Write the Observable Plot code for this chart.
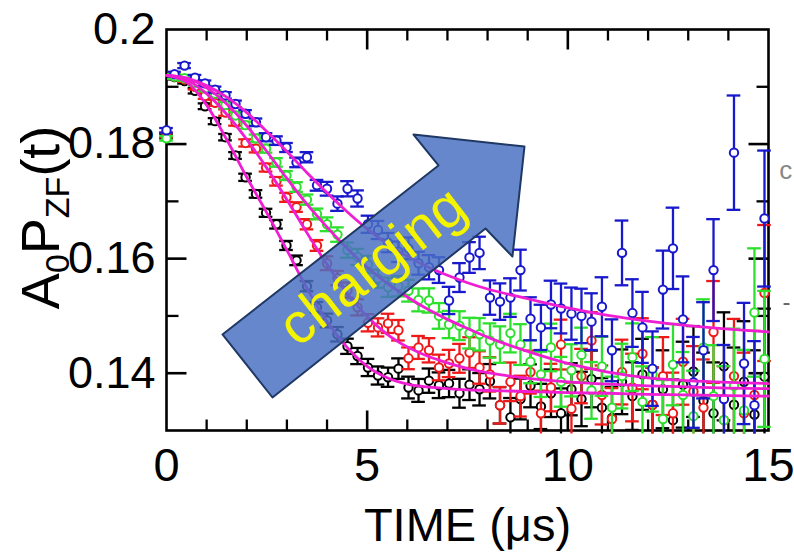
<!DOCTYPE html>
<html><head><meta charset="utf-8">
<script src="https://cdn.jsdelivr.net/npm/d3@7"></script>
<script src="https://cdn.jsdelivr.net/npm/@observablehq/plot@0.6"></script>
<style>body{margin:0;background:#fff} svg{display:block}</style>
</head><body>
<script>
// ---- data ----
const times = [0,0.20,0.45,0.71,0.96,1.21,1.47,1.72,1.97,2.23,2.48,2.74,2.99,3.24,3.50,3.75,4.00,4.26,4.51,4.76,5.02,5.27,5.52,5.78,6.03,6.28,6.54,6.79,7.04,7.30,7.55,7.80,8.06,8.31,8.57,8.82,9.07,9.33,9.58,9.83,10.09,10.34,10.59,10.85,11.10,11.35,11.61,11.86,12.11,12.37,12.62,12.87,13.13,13.38,13.63,13.89,14.14,14.39,14.65,14.90];
const errs = [.00040,.00042,.00044,.00047,.00050,.00053,.00056,.00059,.00063,.00066,.00070,.00075,.00079,.00084,.00089,.00094,.00120,.00126,.00133,.00141,.00150,.00158,.00168,.00179,.00190,.00200,.00212,.00224,.00238,.00252,.00268,.00283,.00300,.00318,.00337,.00356,.00375,.00395,.00415,.00435,.00455,.00475,.00495,.00515,.00540,.00565,.00590,.00620,.00650,.00680,.00710,.00750,.00793,.00840,.00889,.00943,.00998,.01058,.01120,.01187];
const blackVals = [.1814,.1917,.1910,.1893,.1866,.1840,.1812,.1780,.1742,.1713,
  .1680,.1660,.1623,.1597,.1552,.1515,.1492,.1468,.1447,.1430,
  .1410,.1396,.1393,.1408,.1375,.1370,.1387,.1379,.1382,.1365,
  .1380,.1372,.1386,.1344,.1323,.1355,.1378,.1342,.1365,.1330,
  .1372,.1355,.1390,.1340,.1322,.1385,.1360,.1398,.1345,.1372,
  .1318,.1380,.1403,.1352,.1330,.1412,.1345,.1385,.1328,.1394];
const redVals = [.1816,.1918,.1913,.1900,.1884,.1872,.1855,.1838,.1802,.1792,
  .1759,.1735,.1707,.1690,.1660,.1623,.1592,.1566,.1545,.1515,
  .1488,.1480,.1487,.1475,.1426,.1445,.1440,.1410,.1417,.1426,
  .1436,.1410,.1398,.1344,.1385,.1360,.1402,.1330,.1375,.1450,
  .1338,.1395,.1457,.1362,.1320,.1402,.1375,.1434,.1345,.1395,
  .1330,.1420,.1368,.1340,.1472,.1318,.1395,.1330,.1362,.1540];
const greenVals = [.1810,.1918,.1915,.1907,.1897,.1888,.1868,.1850,.1833,.1810,
  .1792,.1768,.1745,.1725,.1703,.1678,.1660,.1642,.1615,.1603,
  .1590,.1565,.1550,.1552,.1544,.1528,.1527,.1500,.1485,.1483,
  .1470,.1468,.1457,.1450,.1470,.1450,.1420,.1398,.1445,.1385,
  .1405,.1432,.1370,.1412,.1340,.1395,.1428,.1350,.1398,.1320,
  .1415,.1362,.1325,.1445,.1360,.1318,.1378,.1335,.1506,.1425];
const blueVals = [.1824,.1922,.1937,.1916,.1906,.1895,.1885,.1870,.1853,.1838,
  .1812,.1806,.1794,.1768,.1777,.1728,.1722,.1696,.1722,.1705,
  .1660,.1650,.1628,.1612,.1618,.1592,.1585,.1580,.1527,.1567,
  .1602,.1610,.1532,.1525,.1532,.1580,.1495,.1480,.1520,.1513,
  .1504,.1500,.1490,.1516,.1440,.1610,.1505,.1480,.1408,.1546,
  .1618,.1494,.1384,.1440,.1580,.1355,.1785,.1417,.1344,.1670];

const fitTimes = [0,0.5,1,1.5,2,2.5,3,3.5,4,4.5,5,5.5,6,6.5,7,7.5,8,9,10,11,12,13,14,15];
const fitBlack = [.1920,.1908,.1868,.1808,.1742,.1680,.1615,.1548,.1490,.1445,.1412,.1392,.1381,.1376,.1373,.1371,.1370,.1368,.1366,.1365,.1363,.1362,.1361,.1360];
const fitRed   = [.1920,.1912,.1888,.1852,.1808,.1758,.1703,.1645,.1590,.1540,.1499,.1468,.1446,.1430,.1418,.1408,.1401,.1391,.1385,.1381,.1378,.1376,.1374,.1373];
const fitGreen = [.1920,.1915,.1898,.1870,.1832,.1787,.1740,.1695,.1655,.1618,.1585,.1557,.1533,.1512,.1494,.1478,.1463,.1438,.1417,.1402,.1392,.1387,.1384,.1382];
const fitBlue  = [.1920,.1915,.1902,.1882,.1855,.1822,.1787,.1750,.1715,.1682,.1652,.1626,.1604,.1586,.1571,.1558,.1547,.1530,.1514,.1501,.1491,.1483,.1477,.1472];

const xMajor = [5, 10];
const xMinor = [1,2,3,4,6,7,8,9,11,12,13,14];
const yMajor = [0.14, 0.16, 0.18];
const yMinor = [0.15, 0.17, 0.19];
const xTickVals = [0, 5, 10, 15];
const xTickLabels = ["0", "5", "10", "15"];
const yTickVals = [0.14, 0.16, 0.18, 0.2];
const yTickLabels = ["0.14", "0.16", "0.18", "0.2"];
const xTitle = "TIME (μs)";
const yTitle = "A0PZF(t)";
const arrowText = "charging";
// arrow outline, in data units (t, value)
const arrowShape = [
  {t:1.395,v:0.14676},{t:6.777,v:0.17626},{t:6.155,v:0.18167},{t:8.920,v:0.17958},
  {t:8.620,v:0.16037},{t:7.949,v:0.16526},{t:2.641,v:0.13576}
];

// ---- build ----
const series = [
  {vals: blackVals, color: "#000000"},
  {vals: redVals, color: "#ee1a1a"},
  {vals: greenVals, color: "#2ee02e"},
  {vals: blueVals, color: "#1818cc"}
];
const fits = [fitBlack, fitRed, fitGreen, fitBlue];
const MAG = "#f01ed2";
const FONT = "'Liberation Sans', Arial, Helvetica, sans-serif";
const seg = (dx, dy) => ({draw(ctx){ ctx.moveTo(0,0); ctx.lineTo(dx,dy); }});

const marks = [Plot.frame({stroke: "black", strokeWidth: 2.6})];
const tk = (arr, x, y, sym, w) => Plot.dot(arr, {x, y, r: 1, symbol: sym, stroke: "black", fill: "none", strokeWidth: w});
marks.push(
  tk(xMajor, d=>d, ()=>0.13, seg(0,-20), 2.6), tk(xMajor, d=>d, ()=>0.2, seg(0,20), 2.6),
  tk(xMinor, d=>d, ()=>0.13, seg(0,-11), 2.3), tk(xMinor, d=>d, ()=>0.2, seg(0,11), 2.3),
  tk(yMajor, ()=>0, d=>d, seg(20,0), 2.6), tk(yMajor, ()=>15, d=>d, seg(-20,0), 2.6),
  tk(yMinor, ()=>0, d=>d, seg(12,0), 2.3), tk(yMinor, ()=>15, d=>d, seg(-12,0), 2.3)
);
for (const s of series) {
  const rows = times.map((t, i) => ({t, v: s.vals[i], e: errs[i]}));
  marks.push(
    Plot.ruleX(rows, {x: "t", y1: d => Math.max(d.v - d.e, 0.1294), y2: d => d.v + d.e, stroke: s.color, strokeWidth: 2.3}),
    Plot.ruleY(rows, {y: d => d.v + d.e, x1: d => d.t - 0.17, x2: d => d.t + 0.17, stroke: s.color, strokeWidth: 2.3}),
    Plot.ruleY(rows.filter(d => d.v - d.e > 0.1296), {y: d => d.v - d.e, x1: d => d.t - 0.17, x2: d => d.t + 0.17, stroke: s.color, strokeWidth: 2.3}),
    Plot.dot(rows, {x: "t", y: "v", r: 4.2, stroke: s.color, fill: "white", strokeWidth: 2})
  );
}
for (const f of fits) {
  const rows = fitTimes.map((t, i) => ({t, v: f[i]}));
  marks.push(Plot.line(rows, {x: "t", y: "v", stroke: MAG, strokeWidth: 2.8, curve: "monotone-x"}));
}
marks.push(
  Plot.line(arrowShape, {x: "t", y: "v", curve: "linear-closed", fill: "#4a70c2", fillOpacity: 0.84, stroke: "#1f3864", strokeWidth: 2}),
  Plot.text([arrowText], {x: ()=>5.133, y: ()=>0.15863, text: d=>d, rotate: -38, fontSize: 57, fill: "#f4f400", fontFamily: FONT}),
  Plot.text(xTickVals, {x: d=>d, y: ()=>0.13, text: (d,i)=>xTickLabels[i], dy: 35, fontSize: 47, fill: "black", fontFamily: FONT}),
  Plot.text(yTickVals, {x: ()=>0, y: d=>d, text: (d,i)=>yTickLabels[i], dx: -11, textAnchor: "end", fontSize: 45, fill: "black", fontFamily: FONT}),
  Plot.text([xTitle], {x: ()=>7.5, y: ()=>0.13, text: d=>d, dy: 95, fontSize: 47, fill: "black", fontFamily: FONT}),
  Plot.text([yTitle], {x: ()=>0, y: ()=>0.1672, text: d=>d, dx: -125, rotate: -90, fontSize: 54, fill: "black", fontFamily: FONT}),
  Plot.text(["c"], {x: ()=>15.27, y: ()=>0.1754, text: d=>d, textAnchor: "start", fontSize: 26, fill: "#888", fontFamily: FONT}),
  Plot.text(["-"], {x: ()=>15.35, y: ()=>0.1523, text: d=>d, textAnchor: "start", fontSize: 24, fill: "#666", fontFamily: FONT})
);

const svg = Plot.plot({
  width: 794, height: 559,
  marginLeft: 166, marginRight: 26, marginTop: 29, marginBottom: 129,
  x: {domain: [0, 15], axis: null},
  y: {domain: [0.13, 0.2], axis: null},
  style: {background: "white", fontFamily: FONT, overflow: "visible"},
  marks
});

// subscripts for the y-axis title
d3.select(svg).selectAll("text").each(function () {
  if (this.textContent === yTitle) {
    const el = d3.select(this);
    el.text(null);
    const sub = 34, sh = 10;
    el.append("tspan").text("A");
    el.append("tspan").attr("dy", sh).attr("font-size", sub).text("0");
    el.append("tspan").attr("dy", -sh).text("P");
    el.append("tspan").attr("dy", sh).attr("font-size", sub).text("ZF");
    el.append("tspan").attr("dy", -sh).text("(t)");
  }
});
document.body.appendChild(svg);
</script>
</body></html>
